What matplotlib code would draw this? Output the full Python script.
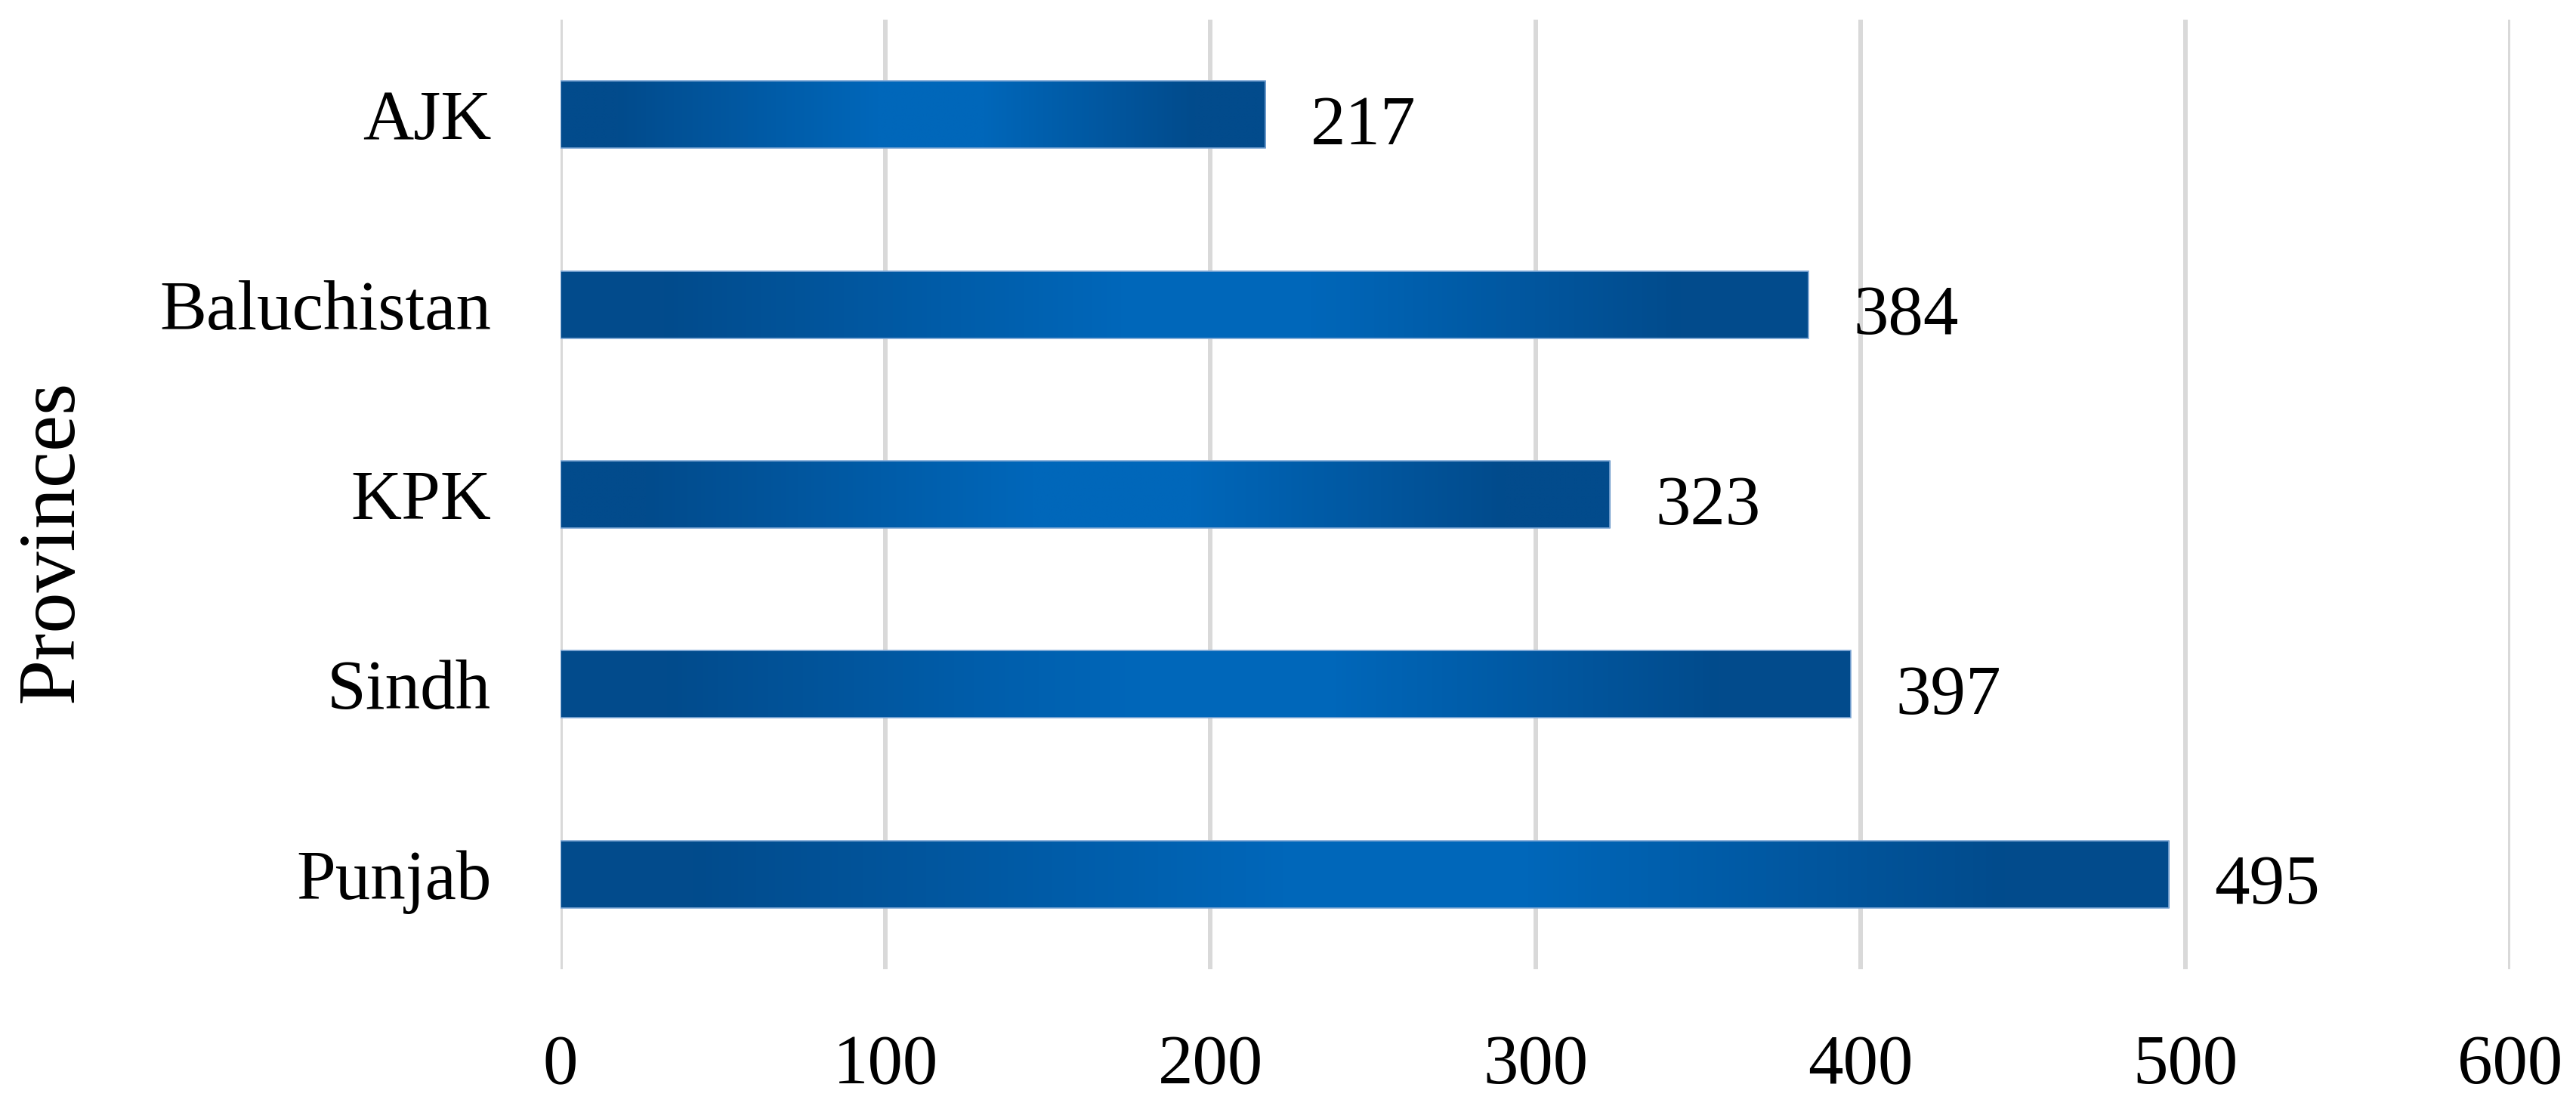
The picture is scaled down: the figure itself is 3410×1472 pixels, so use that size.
import numpy as np
import matplotlib.pyplot as plt
from matplotlib.colors import LinearSegmentedColormap

# data (bottom to top as drawn)
provinces = ["Punjab", "Sindh", "KPK", "Baluchistan", "AJK"]
counts = [495, 397, 323, 384, 217]
xticks = [0, 100, 200, 300, 400, 500, 600]

plt.rcParams['font.family'] = ['Liberation Serif', 'DejaVu Serif']

dark = "#024B8C"
bright = "#0067BA"
grad = LinearSegmentedColormap.from_list(
    "bar", [(0.0, dark), (0.08, dark), (0.45, bright), (0.6, bright), (0.9, dark), (1.0, dark)])

fig = plt.figure(figsize=(34.1, 14.72), dpi=100)
ax = fig.add_axes([0.2176, 0.1284, 0.7569, 0.8539])

bar_h = 0.354
ramp = np.linspace(0, 1, 512).reshape(1, -1)
for i, v in enumerate(counts):
    ax.imshow(ramp, cmap=grad, aspect='auto', interpolation='bilinear',
              extent=(0, v, i - bar_h / 2, i + bar_h / 2), zorder=2)
    ax.add_patch(plt.Rectangle((0, i - bar_h / 2), v, bar_h, fill=False,
                               edgecolor="#7FA8D6", lw=1.2, zorder=3))
    ax.annotate(str(v), (v, i), xytext=(43, -12), textcoords='offset points',
                ha='left', va='center', fontsize=67, color='black')

ax.set_xlim(0, 600)
ax.set_ylim(-0.5, len(provinces) - 0.5)
ax.set_xticks(xticks)
ax.set_yticks(range(len(provinces)))
ax.set_yticklabels(provinces)
ax.tick_params(axis='both', length=0, labelsize=67)
ax.tick_params(axis='y', pad=66)
ax.tick_params(axis='x', pad=62)
ax.grid(axis='x', color='#D9D9D9', lw=4.3, zorder=0)
ax.set_axisbelow(True)
for s in ax.spines.values():
    s.set_visible(False)

fig.text(0.0205, 0.513, "Provinces", rotation=90, ha='center', va='center', fontsize=78)

fig.savefig("out.png", dpi=100)
